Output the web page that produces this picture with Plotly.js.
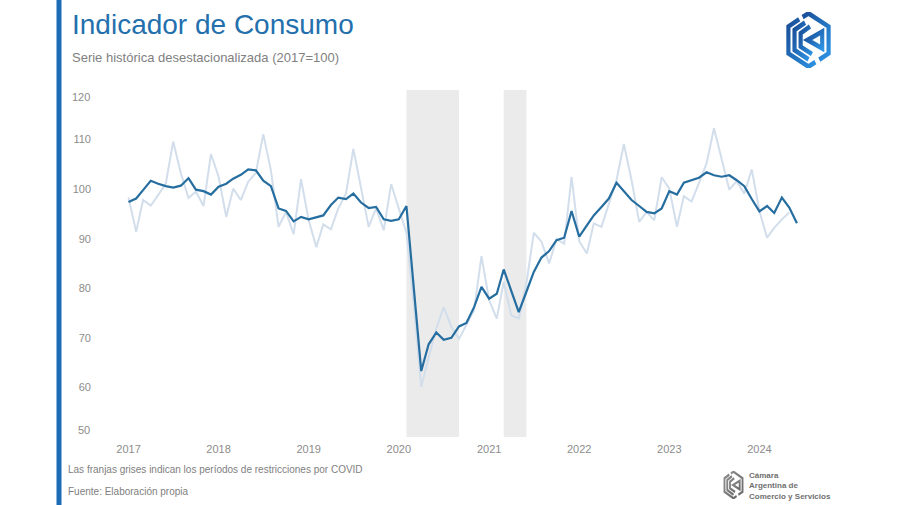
<!DOCTYPE html>
<html>
<head>
<meta charset="utf-8">
<script src="https://cdn.plot.ly/plotly-3.0.1.min.js"></script>
<style>
html,body{margin:0;padding:0;background:#fff;}
#chart{width:900px;height:505px;}
</style>
</head>
<body>
<div id="chart"></div>
<script>
// ---------- DATA ----------
const months = [
  '2017-01-01','2017-02-01','2017-03-01','2017-04-01','2017-05-01','2017-06-01','2017-07-01','2017-08-01','2017-09-01','2017-10-01','2017-11-01','2017-12-01',
  '2018-01-01','2018-02-01','2018-03-01','2018-04-01','2018-05-01','2018-06-01','2018-07-01','2018-08-01','2018-09-01','2018-10-01','2018-11-01','2018-12-01',
  '2019-01-01','2019-02-01','2019-03-01','2019-04-01','2019-05-01','2019-06-01','2019-07-01','2019-08-01','2019-09-01','2019-10-01','2019-11-01','2019-12-01',
  '2020-01-01','2020-02-01','2020-03-01','2020-04-01','2020-05-01','2020-06-01','2020-07-01','2020-08-01','2020-09-01','2020-10-01','2020-11-01','2020-12-01',
  '2021-01-01','2021-02-01','2021-03-01','2021-04-01','2021-05-01','2021-06-01','2021-07-01','2021-08-01','2021-09-01','2021-10-01','2021-11-01','2021-12-01',
  '2022-01-01','2022-02-01','2022-03-01','2022-04-01','2022-05-01','2022-06-01','2022-07-01','2022-08-01','2022-09-01','2022-10-01','2022-11-01','2022-12-01',
  '2023-01-01','2023-02-01','2023-03-01','2023-04-01','2023-05-01','2023-06-01','2023-07-01','2023-08-01','2023-09-01','2023-10-01','2023-11-01','2023-12-01',
  '2024-01-01','2024-02-01','2024-03-01','2024-04-01','2024-05-01','2024-06-01'
];

// serie original (línea clara)
const original = [
  98.3, 91.4, 97.8, 96.7, 98.8, 101.1, 109.6, 103.2, 98.2, 99.5, 96.6, 107.1,
  102.5, 94.4, 100.1, 97.8, 101.5, 103.3, 111.1, 103.8, 92.4, 95.4, 90.9, 102.0,
  93.7, 88.3, 92.9, 91.9, 96.1, 99.1, 108.1, 100.5, 92.4, 96.1, 91.7, 101.0,
  96.0, 91.2, 77.0, 60.1, 66.1, 71.9, 76.2, 72.2, 69.8, 72.5, 75.6, 86.5,
  77.6, 73.9, 81.3, 74.5, 73.9, 81.0, 91.2, 89.4, 85.0, 89.9, 89.0, 102.5,
  89.5, 87.0, 93.1, 92.4, 97.1, 101.8, 109.1, 101.8, 93.4, 95.4, 93.7, 102.4,
  100.1, 92.4, 98.6, 97.5, 101.2, 105.2, 112.3, 106.0, 99.9, 101.6, 99.1, 104.0,
  95.6, 90.2, 92.2, 93.9, 95.3, null
];

// serie desestacionalizada (línea oscura)
const desest = [
  97.4, 98.1, 99.8, 101.7, 101.1, 100.6, 100.3, 100.7, 102.2, 99.9, 99.6, 98.9,
  100.5, 101.1, 102.1, 102.9, 104.0, 103.8, 101.7, 100.6, 96.1, 95.6, 93.5, 94.4,
  93.9, 94.4, 94.7, 96.8, 98.3, 98.0, 99.1, 97.3, 96.2, 96.4, 93.9, 93.6,
  93.9, 96.6, 80.3, 63.3, 68.7, 71.1, 69.6, 70.0, 72.3, 73.0, 76.2, 80.3,
  77.9, 78.9, 83.8, 79.5, 75.2, 79.3, 83.3, 86.2, 87.5, 89.7, 90.2, 95.6,
  90.4, 92.7, 94.7, 96.4, 98.1, 101.3, 99.5, 97.8, 96.6, 95.4, 95.1, 96.1,
  99.6, 98.9, 101.3, 101.8, 102.3, 103.4, 102.8, 102.5, 102.8, 101.8, 100.6, 98.0,
  95.5, 96.6, 95.2, 98.3, 96.3, 93.1
];

// franjas COVID
const covidStart = ['2020-02-01', '2021-03-01'];
const covidEnd   = ['2020-09-01', '2021-06-01'];

const yearTicks  = ['2017-01-01','2018-01-01','2019-01-01','2020-01-01','2021-01-01','2022-01-01','2023-01-01','2024-01-01'];
const yearLabels = ['2017','2018','2019','2020','2021','2022','2023','2024'];
const yTicks = [60, 70, 80, 90, 100, 110];
const yEdgeTicks = ['120', '50'];

// ---------- LAYOUT HELPERS ----------
const W = 900, H = 505;
const M = {l: 100, r: 70, t: 90, b: 68};
const PW = W - M.l - M.r, PH = H - M.t - M.b;
const px = v => (v - M.l) / PW;
const py = v => (H - M.b - v) / PH;

const FONT = 'Arial, "Liberation Sans", Helvetica, sans-serif';

function logo(c1, c2) {
  const svg = "<svg xmlns='http://www.w3.org/2000/svg' viewBox='0 0 100 100' preserveAspectRatio='none'>" +
    "<defs><linearGradient id='g' x1='0' y1='0' x2='1' y2='1'>" +
    "<stop offset='0' stop-color='" + c1 + "'/><stop offset='1' stop-color='" + c2 + "'/></linearGradient></defs>" +
    "<g fill='none' stroke='url(#g)' stroke-width='8.5' stroke-linejoin='miter'>" +
    "<path d='M38 9 L50 2.5 L91 26 L91 74 L72 85'/>" +
    "<path d='M31 13 L9 26 L9 74 L50 97.5 L64 89.5'/>" +
    "<path d='M43 19 L21.5 32 L21.5 68 L50 84.5'/>" +
    "<path d='M53 26 L34 38 L34 62 L57 75'/>" +
    "<path d='M78 35 L48 50 L78 65 Z'/>" +
    "</g></svg>";
  return 'data:image/svg+xml;charset=utf-8,' + encodeURIComponent(svg);
}

// ---------- TRACES ----------
const traces = [
  {
    x: months, y: original, type: 'scatter', mode: 'lines',
    line: {color: '#d2deeb', width: 2}, hoverinfo: 'skip', connectgaps: false
  },
  {
    x: months, y: desest, type: 'scatter', mode: 'lines',
    line: {color: '#276ea0', width: 2.2}, hoverinfo: 'skip'
  }
];

const shapes = covidStart.map((s, i) => ({
  type: 'rect', xref: 'x', yref: 'paper', x0: s, x1: covidEnd[i], y0: 0, y1: 1,
  fillcolor: '#ebebeb', line: {width: 0}, layer: 'below'
}));
// barra azul lateral
shapes.push({
  type: 'rect', xref: 'paper', yref: 'paper',
  x0: px(56.5), x1: px(61.5), y0: py(H), y1: py(0),
  fillcolor: '#1c6db5', line: {width: 0}, layer: 'above'
});

const ann = (text, x, y, size, color, extra) => Object.assign({
  text: text, xref: 'paper', yref: 'paper', x: px(x), y: py(y),
  xanchor: 'left', yanchor: 'middle', showarrow: false,
  font: {family: FONT, size: size, color: color}
}, extra || {});

const annotations = [
  ann('Indicador de Consumo', 70, 24, 28, '#2470ad'),
  ann('Serie histórica desestacionalizada (2017=100)', 70, 57, 13, '#808080'),
  ann('Las franjas grises indican los períodos de restricciones por COVID', 66, 469, 10, '#808080'),
  ann('Fuente: Elaboración propia', 66, 491.5, 10, '#808080'),
  ann('<b>Cámara</b><br><b>Argentina de</b><br><b>Comercio y Servicios</b>', 747, 485.5, 8, '#6f6f6f', {align: 'left'}),
  // etiquetas extremas del eje Y (desplazadas hacia dentro como en el original)
  ann(yEdgeTicks[0], 92, 97, 11, '#8c8c8c', {xanchor: 'right'}),
  ann(yEdgeTicks[1], 92, 430, 11, '#8c8c8c', {xanchor: 'right'})
];

const images = [
  {source: logo('#1a4e98', '#2d92e2'), xref: 'paper', yref: 'paper',
   x: px(784), y: py(12), sizex: 49 / PW, sizey: 56 / PH,
   xanchor: 'left', yanchor: 'top', sizing: 'stretch', layer: 'above'},
  {source: logo('#8c8c8c', '#6a6a6a'), xref: 'paper', yref: 'paper',
   x: px(722.5), y: py(471), sizex: 22 / PW, sizey: 28 / PH,
   xanchor: 'left', yanchor: 'top', sizing: 'stretch', layer: 'above'}
];

const layout = {
  width: W, height: H,
  margin: M,
  paper_bgcolor: '#ffffff', plot_bgcolor: '#ffffff',
  showlegend: false,
  hovermode: false,
  font: {family: FONT, size: 11, color: '#8c8c8c'},
  xaxis: {
    type: 'date',
    range: ['2016-09-07 12:00', '2024-10-13'],
    tickvals: yearTicks, ticktext: yearLabels,
    showgrid: false, zeroline: false, showline: false, ticks: '',
    tickfont: {family: FONT, size: 11, color: '#8c8c8c'},
    ticklabelstandoff: 4,
    fixedrange: true
  },
  yaxis: {
    range: [50, 120],
    tickvals: yTicks,
    showgrid: false, zeroline: false, showline: false, ticks: '',
    tickfont: {family: FONT, size: 11, color: '#8c8c8c'},
    ticklabelstandoff: 8,
    fixedrange: true
  },
  shapes: shapes,
  annotations: annotations,
  images: images
};

Plotly.newPlot('chart', traces, layout, {displayModeBar: false, staticPlot: true});
</script>
</body>
</html>
